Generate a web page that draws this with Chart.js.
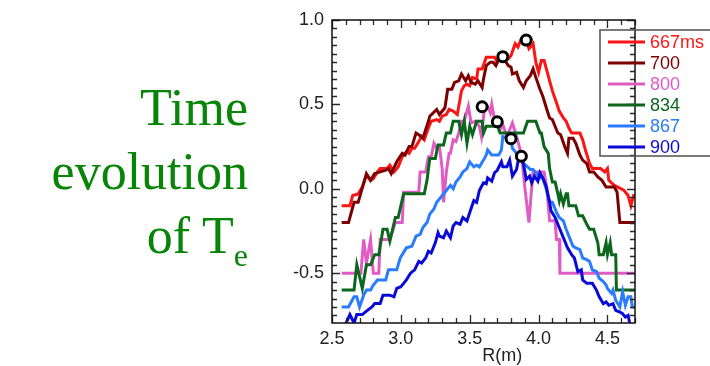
<!DOCTYPE html>
<html>
<head>
<meta charset="utf-8">
<script src="https://cdn.jsdelivr.net/npm/chart.js@4.4.1/dist/chart.umd.min.js"></script>
<style>
  html, body { margin: 0; padding: 0; background: #ffffff; }
  #wrap { position: relative; width: 710px; height: 366px; overflow: hidden; }
  #c { position: absolute; left: 0; top: 0; }
  #side {
    position: absolute; right: 462px; top: 76px;
    font-family: 'Liberation Serif', 'Times New Roman', serif;
    font-size: 52px; line-height: 64px; color: #078507;
    text-align: right; white-space: nowrap;
  }
  #side sub { font-size: 32px; vertical-align: -13px; line-height: 0; }
</style>
</head>
<body>
<div id="wrap">
  <canvas id="c" width="710" height="366"></canvas>
  <div id="side">Time<br>evolution<br>of T<sub>e</sub></div>
</div>
<script>
// ---------------- data ----------------
const seriesLabels = ['667ms', '700', '800', '834', '867', '900'];

const R_667  = [2.57,2.63,2.65,2.69,2.72,2.75,2.78,2.80,2.83,2.85,2.90,2.92,2.95,2.98,3.01,3.04,3.06,3.08,3.10,3.13,3.15,3.17,3.20,3.22,3.26,3.28,3.30,3.33,3.35,3.38,3.41,3.44,3.46,3.48,3.50,3.52,3.55,3.56,3.59,3.62,3.68,3.70,3.72,3.74,3.76,3.78,3.80,3.83,3.85,3.87,3.91,3.93,3.96,3.98,4.00,4.02,4.04,4.06,4.08,4.10,4.13,4.15,4.18,4.20,4.22,4.24,4.30,4.32,4.34,4.37,4.39,4.45,4.48,4.50,4.51,4.55,4.60,4.62,4.65,4.67,4.69,4.70];
const TE_667 = [-0.10,-0.10,-0.04,-0.03,0.01,0.08,0.05,0.06,0.10,0.12,0.12,0.14,0.10,0.13,0.19,0.22,0.21,0.24,0.24,0.28,0.31,0.29,0.36,0.40,0.41,0.40,0.43,0.44,0.47,0.46,0.44,0.58,0.61,0.62,0.61,0.66,0.65,0.71,0.71,0.78,0.78,0.75,0.79,0.76,0.76,0.77,0.79,0.86,0.84,0.88,0.88,0.83,0.86,0.75,0.69,0.76,0.76,0.70,0.64,0.58,0.51,0.46,0.42,0.40,0.36,0.33,0.33,0.29,0.23,0.15,0.12,0.12,0.10,0.12,0.05,0.02,0.00,-0.01,-0.04,-0.10,-0.04,-0.04];

const R_700  = [2.57,2.62,2.66,2.69,2.75,2.78,2.81,2.85,2.89,2.91,2.93,2.97,3.01,3.03,3.06,3.08,3.11,3.13,3.16,3.20,3.21,3.26,3.28,3.32,3.34,3.37,3.39,3.42,3.44,3.47,3.49,3.51,3.54,3.56,3.59,3.60,3.62,3.65,3.67,3.69,3.71,3.74,3.78,3.80,3.81,3.84,3.86,3.89,3.91,3.94,3.96,3.98,4.01,4.03,4.06,4.08,4.10,4.13,4.14,4.16,4.19,4.21,4.22,4.25,4.27,4.30,4.32,4.35,4.37,4.40,4.43,4.46,4.49,4.55,4.57,4.59,4.70];
const TE_700 = [-0.20,-0.20,-0.08,-0.08,0.09,0.05,0.09,0.10,0.11,0.12,0.09,0.16,0.21,0.20,0.25,0.25,0.33,0.32,0.30,0.40,0.43,0.47,0.44,0.48,0.59,0.59,0.63,0.64,0.68,0.64,0.67,0.63,0.62,0.64,0.60,0.65,0.73,0.75,0.75,0.73,0.77,0.78,0.73,0.72,0.68,0.69,0.64,0.60,0.64,0.67,0.71,0.66,0.59,0.55,0.47,0.42,0.41,0.35,0.33,0.32,0.25,0.21,0.30,0.30,0.27,0.20,0.17,0.15,0.10,0.10,0.07,0.05,0.01,0.01,-0.02,-0.20,-0.20];

const R_800  = [2.57,2.71,2.73,2.75,2.78,2.80,2.84,2.85,2.92,2.96,3.01,3.02,3.13,3.14,3.18,3.20,3.22,3.24,3.26,3.28,3.30,3.31,3.33,3.35,3.36,3.38,3.40,3.42,3.44,3.46,3.49,3.51,3.54,3.57,3.585,3.61,3.63,3.65,3.66,3.68,3.70,3.72,3.74,3.77,3.79,3.81,3.84,3.86,3.88,3.90,3.93,3.95,3.96,4.04,4.06,4.08,4.12,4.13,4.15,4.155,4.70];
const TE_800 = [-0.50,-0.50,-0.30,-0.44,-0.30,-0.50,-0.50,-0.30,-0.30,-0.20,-0.20,-0.02,-0.02,0.10,0.10,0.19,0.19,0.27,0.24,0.25,0.12,-0.08,0.10,0.21,0.21,0.29,0.28,0.33,0.40,0.40,0.49,0.39,0.40,0.37,0.31,0.50,0.49,0.45,0.50,0.41,0.41,0.35,0.38,0.31,0.35,0.39,0.31,0.25,0.17,0.01,-0.20,0.01,0.10,0.10,0.00,-0.19,-0.19,-0.30,-0.30,-0.50,-0.50];

const R_834  = [2.57,2.66,2.68,2.72,2.75,2.78,2.81,2.84,2.87,2.90,2.92,2.96,2.98,3.02,3.17,3.19,3.21,3.25,3.27,3.31,3.33,3.36,3.38,3.42,3.44,3.46,3.48,3.50,3.52,3.55,3.59,3.60,3.62,3.67,3.69,3.72,3.89,3.92,3.98,4.01,4.02,4.04,4.07,4.08,4.10,4.12,4.14,4.15,4.16,4.18,4.20,4.21,4.22,4.27,4.29,4.32,4.35,4.37,4.40,4.43,4.44,4.47,4.49,4.50,4.52,4.53,4.56,4.565,4.70];
const TE_834 = [-0.60,-0.60,-0.45,-0.59,-0.45,-0.45,-0.39,-0.39,-0.24,-0.24,-0.31,-0.17,-0.17,-0.03,-0.03,0.05,0.18,0.18,0.26,0.26,0.33,0.33,0.40,0.40,0.32,0.40,0.27,0.37,0.32,0.40,0.40,0.33,0.37,0.37,0.40,0.33,0.33,0.40,0.40,0.33,0.33,0.25,0.21,0.12,0.04,0.04,-0.03,-0.07,-0.03,-0.09,-0.03,-0.03,-0.10,-0.10,-0.16,-0.16,-0.21,-0.24,-0.24,-0.32,-0.39,-0.39,-0.32,-0.39,-0.32,-0.39,-0.39,-0.60,-0.60];

const R_867  = [2.57,2.62,2.66,2.68,2.70,2.73,2.75,2.78,2.80,2.83,2.89,2.91,2.97,2.995,3.01,3.04,3.08,3.11,3.14,3.16,3.19,3.21,3.24,3.26,3.28,3.31,3.33,3.36,3.38,3.40,3.43,3.45,3.48,3.50,3.53,3.55,3.57,3.60,3.62,3.63,3.66,3.71,3.73,3.74,3.78,3.80,3.81,3.84,3.86,3.89,3.92,3.94,3.96,3.98,4.01,4.03,4.055,4.08,4.10,4.13,4.15,4.18,4.20,4.22,4.25,4.27,4.30,4.32,4.35,4.37,4.39,4.42,4.44,4.47,4.49,4.50,4.53,4.54,4.56,4.59,4.61,4.63,4.65,4.67,4.68,4.70];
const TE_867 = [-0.70,-0.70,-0.64,-0.64,-0.70,-0.63,-0.60,-0.60,-0.57,-0.54,-0.54,-0.48,-0.48,-0.41,-0.39,-0.35,-0.34,-0.28,-0.27,-0.23,-0.20,-0.15,-0.12,-0.08,-0.06,-0.03,-0.01,0.02,0.00,0.04,0.07,0.10,0.12,0.16,0.13,0.14,0.13,0.17,0.20,0.23,0.20,0.20,0.23,0.31,0.30,0.29,0.24,0.21,0.19,0.15,0.13,0.115,0.115,0.095,0.065,0.065,0.00,-0.08,-0.08,-0.14,-0.17,-0.19,-0.24,-0.28,-0.34,-0.35,-0.36,-0.41,-0.42,-0.43,-0.48,-0.49,-0.53,-0.55,-0.57,-0.59,-0.62,-0.60,-0.66,-0.70,-0.61,-0.69,-0.64,-0.64,-0.70,-0.70];

const R_900  = [2.60,2.63,2.66,2.68,2.72,2.75,2.79,2.81,2.85,2.87,2.92,2.95,2.97,3.00,3.02,3.04,3.07,3.10,3.13,3.15,3.18,3.20,3.22,3.25,3.27,3.28,3.31,3.33,3.36,3.38,3.40,3.43,3.45,3.48,3.50,3.53,3.55,3.57,3.60,3.62,3.63,3.66,3.68,3.70,3.73,3.74,3.77,3.79,3.81,3.84,3.86,3.89,3.91,3.935,3.95,3.97,3.995,4.01,4.03,4.055,4.08,4.09,4.12,4.14,4.16,4.19,4.21,4.24,4.26,4.285,4.31,4.32,4.35,4.39,4.42,4.44,4.47,4.49,4.51,4.54,4.56,4.59,4.61,4.63,4.65,4.66,4.67];
const TE_900 = [-0.80,-0.745,-0.795,-0.745,-0.745,-0.725,-0.70,-0.68,-0.68,-0.63,-0.63,-0.64,-0.59,-0.58,-0.56,-0.54,-0.50,-0.48,-0.43,-0.44,-0.41,-0.37,-0.38,-0.32,-0.26,-0.28,-0.29,-0.25,-0.29,-0.22,-0.20,-0.21,-0.17,-0.19,-0.14,-0.07,-0.08,-0.01,0.035,0.03,0.065,0.045,0.095,0.11,0.16,0.13,0.13,0.17,0.075,0.115,0.20,0.15,0.055,0.075,0.035,0.075,0.045,0.095,0.065,0.016,-0.08,-0.13,-0.17,-0.21,-0.25,-0.31,-0.35,-0.39,-0.41,-0.49,-0.48,-0.54,-0.56,-0.56,-0.60,-0.64,-0.68,-0.67,-0.69,-0.68,-0.72,-0.73,-0.74,-0.76,-0.75,-0.79,-0.82];

// peak markers (open circles)
const peakR  = [3.91, 3.74, 3.59, 3.70, 3.80, 3.875];
const peakTe = [0.881, 0.783, 0.486, 0.397, 0.297, 0.193];

// axis ticks
const xTickValues = [2.5, 3.0, 3.5, 4.0, 4.5];
const yTickValues = [-0.5, 0.0, 0.5, 1.0];
const xRange = [2.5, 4.7];
const yRange = [-0.795, 1.0];
const xMinorStep = 0.1;
const yMinorStep = 0.05;
const xTitle = 'R(m)';

// ---------------- styles ----------------
const seriesColors = ['#ff1414', '#7d0000', '#e05cc4', '#0c661c', '#2a7cff', '#0a0ad8'];
const FONT = "'Liberation Sans', Arial, Helvetica, sans-serif";

const Rs  = [R_667, R_700, R_800, R_834, R_867, R_900];
const TEs = [TE_667, TE_700, TE_800, TE_834, TE_867, TE_900];

const datasets = seriesLabels.map((lab, i) => ({
  label: lab,
  data: Rs[i].map((r, k) => ({ x: r, y: TEs[i][k] })),
  borderColor: seriesColors[i],
  backgroundColor: seriesColors[i],
  borderWidth: 3,
  pointRadius: 0,
  tension: 0,
  fill: false,
  order: seriesLabels.length - i
}));

datasets.push({
  label: 'peaks',
  data: peakR.map((r, k) => ({ x: r, y: peakTe[k] })),
  showLine: false,
  pointRadius: 5,
  pointBorderWidth: 3,
  pointBorderColor: '#000000',
  pointBackgroundColor: '#ffffff',
  order: -1
});

// frame + inward ticks, axis title, legend
const decor = {
  id: 'decor',
  afterDraw(chart) {
    const ctx = chart.ctx;
    const a = chart.chartArea;
    const xs = chart.scales.x, ys = chart.scales.y;
    ctx.save();
    // ticks
    ctx.strokeStyle = '#2a2a2a';
    ctx.lineWidth = 1.3;
    const nx = Math.round((xRange[1] - xRange[0]) / xMinorStep);
    for (let i = 0; i <= nx; i++) {
      const v = xRange[0] + i * xMinorStep;
      const major = xTickValues.some(t => Math.abs(t - v) < 1e-6);
      const len = major ? 8 : 5;
      const px = Math.round(xs.getPixelForValue(v)) + 0.5;
      ctx.beginPath();
      ctx.moveTo(px, a.bottom); ctx.lineTo(px, a.bottom - len);
      ctx.moveTo(px, a.top); ctx.lineTo(px, a.top + len);
      ctx.stroke();
    }
    const ny0 = Math.ceil(yRange[0] / yMinorStep - 1e-6), ny1 = Math.floor(yRange[1] / yMinorStep + 1e-6);
    for (let i = ny0; i <= ny1; i++) {
      const v = i * yMinorStep;
      const major = yTickValues.some(t => Math.abs(t - v) < 1e-6);
      const len = major ? 8 : 5;
      const py = Math.round(ys.getPixelForValue(v)) + 0.5;
      ctx.beginPath();
      ctx.moveTo(a.left, py); ctx.lineTo(a.left + len, py);
      ctx.moveTo(a.right, py); ctx.lineTo(a.right - len, py);
      ctx.stroke();
    }
    // frame
    ctx.strokeStyle = '#111111';
    ctx.lineWidth = 1.5;
    ctx.strokeRect(a.left, a.top, a.right - a.left, a.bottom - a.top);

    // x-axis title
    ctx.fillStyle = '#222222';
    ctx.font = '18px ' + FONT;
    ctx.textAlign = 'center';
    ctx.textBaseline = 'alphabetic';
    ctx.fillText(xTitle, a.left + (a.right - a.left) * 0.562, 361);

    // legend
    const lx = 600, ly = 30, lw = 130, lh = 126;
    ctx.strokeStyle = '#5a5a5a';
    ctx.lineWidth = 1.6;
    ctx.strokeRect(lx, ly, lw, lh);
    ctx.textAlign = 'left';
    ctx.textBaseline = 'middle';
    seriesLabels.forEach((lab, i) => {
      const y = ly + 12 + i * 21;
      ctx.strokeStyle = seriesColors[i];
      ctx.lineWidth = 3;
      ctx.beginPath();
      ctx.moveTo(lx + 8, y); ctx.lineTo(lx + 45, y);
      ctx.stroke();
      ctx.fillStyle = seriesColors[i];
      ctx.fillText(lab, lx + 50, y + 1);
    });
    ctx.restore();
  }
};

Chart.defaults.font.family = FONT;
Chart.defaults.font.size = 18;
Chart.defaults.color = '#222222';

new Chart(document.getElementById('c'), {
  type: 'line',
  data: { datasets },
  options: {
    responsive: false,
    animation: false,
    devicePixelRatio: 1,
    layout: { padding: { top: 20, right: 75, bottom: 0, left: 0 } },
    plugins: { legend: { display: false }, tooltip: { enabled: false } },
    scales: {
      x: {
        type: 'linear', min: xRange[0], max: xRange[1],
        grid: { display: false, drawTicks: false },
        border: { display: false },
        afterBuildTicks: s => { s.ticks = xTickValues.map(v => ({ value: v })); },
        afterFit: s => { s.height = 43; },
        ticks: { padding: 5, maxRotation: 0, autoSkip: false, callback: v => Number(v).toFixed(1) }
      },
      y: {
        type: 'linear', min: yRange[0], max: yRange[1],
        grid: { display: false, drawTicks: false },
        border: { display: false },
        afterBuildTicks: s => { s.ticks = yTickValues.map(v => ({ value: v })); },
        afterFit: s => { s.width = 332; },
        ticks: { padding: 8, autoSkip: false, callback: v => Number(v).toFixed(1) }
      }
    }
  },
  plugins: [decor]
});
</script>
</body>
</html>
